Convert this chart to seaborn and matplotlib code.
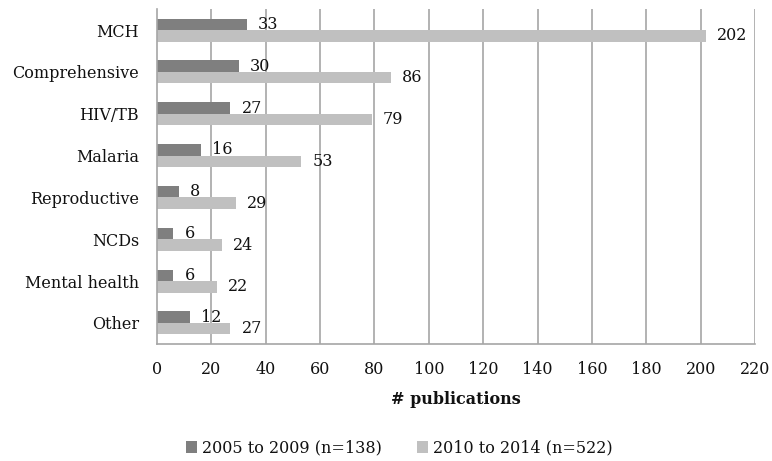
import pandas as pd
import numpy as np
import matplotlib.pyplot as plt
import seaborn as sns

# data
categories = ['MCH', 'Comprehensive', 'HIV/TB', 'Malaria', 'Reproductive',
              'NCDs', 'Mental health', 'Other']
period_1 = '2005 to 2009 (n=138)'
period_2 = '2010 to 2014 (n=522)'
counts_1 = [33, 30, 27, 16, 8, 6, 6, 12]
counts_2 = [202, 86, 79, 53, 29, 24, 22, 27]
x_ticks = list(range(0, 221, 20))

df = pd.DataFrame({
    'Category': categories * 2,
    'Period': [period_1] * len(categories) + [period_2] * len(categories),
    'Count': counts_1 + counts_2,
})

sns.set_style('white')
plt.rcParams['font.family'] = ['DejaVu Serif']
plt.rcParams['font.size'] = 11.5
plt.rcParams['text.color'] = '#111111'
plt.rcParams['xtick.color'] = '#111111'
plt.rcParams['ytick.color'] = '#111111'

fig = plt.figure(figsize=(7.72, 4.61), dpi=100)
ax = fig.add_axes([0.2034, 0.254, 0.7746, 0.726])

sns.barplot(data=df, y='Category', x='Count', hue='Period', order=categories,
            hue_order=[period_1, period_2], palette=['#7f7f7f', '#c0c0c0'],
            orient='h', width=0.55, saturation=1, linewidth=0, ax=ax, legend=True)

# value labels
for cont in ax.containers:
    ax.bar_label(cont, padding=8, fontsize=11.5, color='#111111')

grid_col = '#a6a6a6'
ax.set_xlim(0, 220)
ax.set_xticks(x_ticks)
ax.set_ylim(len(categories) - 0.5, -0.5)
for x in x_ticks[1:]:
    ax.axvline(x, color=grid_col, lw=1.2, zorder=0)

for s in ['top', 'right']:
    ax.spines[s].set_visible(False)
for s in ['left', 'bottom']:
    ax.spines[s].set_color(grid_col)
    ax.spines[s].set_linewidth(1.2)

ax.tick_params(axis='x', length=4, width=1.2, color=grid_col, pad=8,
               labelsize=11.5, labelcolor='#111111')
ax.tick_params(axis='y', which='major', length=0, pad=13, labelsize=11.5,
               labelcolor='#111111')
ax.set_yticks(np.arange(len(categories) + 1) - 0.5, minor=True)
ax.tick_params(axis='y', which='minor', length=4, width=1.2, color=grid_col)

ax.set_ylabel('')
ax.set_xlabel('# publications', fontweight='bold', fontsize=11.5, labelpad=10,
              color='#111111')

handles, labels = ax.get_legend_handles_labels()
ax.get_legend().remove()
fig.legend(handles, labels, loc='center', bbox_to_anchor=(0.517, 0.028), ncol=2,
           frameon=False, handlelength=0.7, handleheight=0.7, handletextpad=0.3,
           columnspacing=2.2, fontsize=11.5)

fig.savefig('out.png', dpi=100)
